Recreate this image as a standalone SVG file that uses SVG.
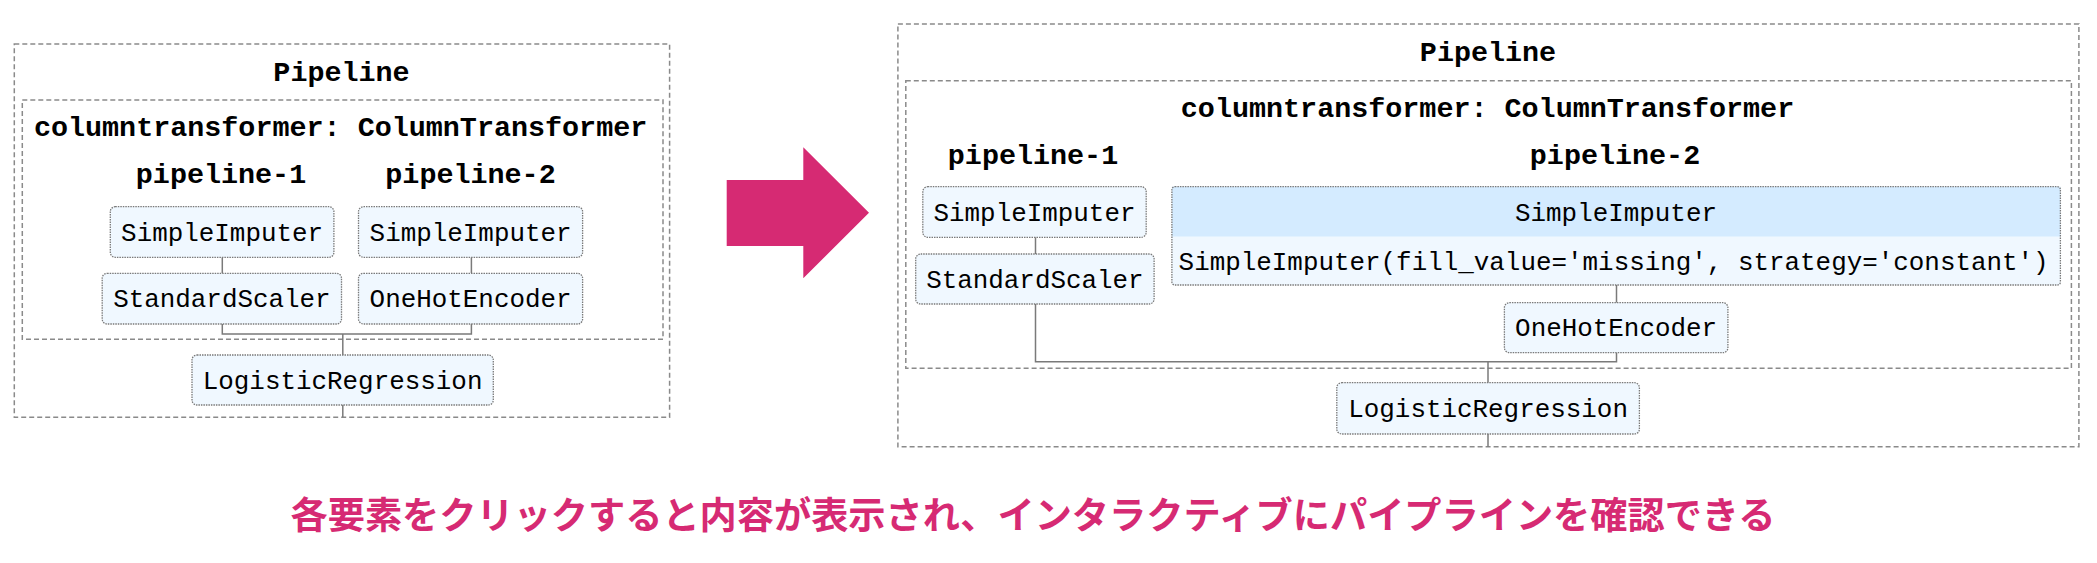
<svg xmlns="http://www.w3.org/2000/svg" width="2097" height="563" viewBox="0 0 2097 563">
<style>
.bg{fill:#ffffff}
.outer{fill:none;stroke:#8a8a8a;stroke-width:1.5;stroke-dasharray:5,3}
.node{fill:#f0f8ff;stroke:#7a7a7a;stroke-width:1.3;stroke-dasharray:1.5,1}
.head{fill:#d4ebff}
.title{font-family:"Liberation Mono","DejaVu Sans Mono",monospace;font-weight:bold;font-size:28.4px;fill:#000;text-anchor:middle}
.lbl{font-family:"Liberation Mono","DejaVu Sans Mono",monospace;font-size:25.9px;fill:#000;text-anchor:middle}
.lblL{font-family:"Liberation Mono","DejaVu Sans Mono",monospace;font-size:25.9px;fill:#000}
.conn{fill:none;stroke:#7a7a7a;stroke-width:1.5}
.cap{font-family:"Noto Sans CJK JP","Noto Sans CJK SC",sans-serif;font-weight:bold;font-size:37.2px;fill:#d62a73;text-anchor:middle}
</style>
<rect class="bg" x="0" y="0" width="2097" height="563"/>

<!-- LEFT DIAGRAM -->
<g id="left-pipeline">
  <rect class="outer" x="14.3" y="44" width="655.3" height="373.3"/>
  <text class="title" x="341.5" y="80.7">Pipeline</text>
</g>
<g id="left-columntransformer">
  <rect class="outer" x="22.3" y="100" width="640.7" height="239.3"/>
  <text class="title" x="340.6" y="136">columntransformer: ColumnTransformer</text>
</g>
<g id="left-pipeline-1-label"><text class="title" x="221" y="183.3">pipeline-1</text></g>
<g id="left-pipeline-2-label"><text class="title" x="470.5" y="183.3">pipeline-2</text></g>

<g id="left-conns">
  <path class="conn" d="M222.3 257.3V273.3"/>
  <path class="conn" d="M471.4 257.3V273.3"/>
  <path class="conn" d="M222.3 324V334H471.4V324"/>
  <path class="conn" d="M342.8 334V355"/>
  <path class="conn" d="M342.8 405V417.3"/>
</g>

<g id="left-simpleimputer-1">
  <rect class="node" x="110.3" y="206.7" width="223.6" height="50.6" rx="5"/>
  <text class="lbl" x="222.1" y="240.5">SimpleImputer</text>
</g>
<g id="left-simpleimputer-2">
  <rect class="node" x="358.5" y="206.7" width="224.1" height="50.6" rx="5"/>
  <text class="lbl" x="470.6" y="240.5">SimpleImputer</text>
</g>
<g id="left-standardscaler">
  <rect class="node" x="102.2" y="273.3" width="239.3" height="50.7" rx="5"/>
  <text class="lbl" x="221.9" y="307.2">StandardScaler</text>
</g>
<g id="left-onehotencoder">
  <rect class="node" x="358.5" y="273.3" width="224.1" height="50.7" rx="5"/>
  <text class="lbl" x="470.6" y="307.2">OneHotEncoder</text>
</g>
<g id="left-logisticregression">
  <rect class="node" x="192" y="355" width="301.3" height="50" rx="5"/>
  <text class="lbl" x="342.6" y="388.5">LogisticRegression</text>
</g>

<!-- ARROW -->
<g id="arrow">
  <polygon points="726.7,180 803.3,180 803.3,147.3 869,212.7 803.3,278.3 803.3,246 726.7,246" fill="#d62a73"/>
</g>

<!-- RIGHT DIAGRAM -->
<g id="right-pipeline">
  <rect class="outer" x="897.9" y="24" width="1181" height="422.7"/>
  <text class="title" x="1488" y="60.7">Pipeline</text>
</g>
<g id="right-columntransformer">
  <rect class="outer" x="905.8" y="80.7" width="1165.6" height="287.6"/>
  <text class="title" x="1487.5" y="117.3">columntransformer: ColumnTransformer</text>
</g>
<g id="right-pipeline-1-label"><text class="title" x="1033" y="164">pipeline-1</text></g>
<g id="right-pipeline-2-label"><text class="title" x="1615" y="164">pipeline-2</text></g>

<g id="right-conns">
  <path class="conn" d="M1035.5 237.3V254"/>
  <path class="conn" d="M1616.5 285V302.7"/>
  <path class="conn" d="M1035.5 304V361.7H1616.5V352.7"/>
  <path class="conn" d="M1488 361.7V382.7"/>
  <path class="conn" d="M1488 434V446.7"/>
</g>

<g id="right-simpleimputer-1">
  <rect class="node" x="922.8" y="186.7" width="223.4" height="50.6" rx="5"/>
  <text class="lbl" x="1034.5" y="220.5">SimpleImputer</text>
</g>
<g id="right-standardscaler">
  <rect class="node" x="915.7" y="254" width="238.4" height="50" rx="5"/>
  <text class="lbl" x="1034.9" y="287.5">StandardScaler</text>
</g>
<g id="right-simpleimputer-2-expanded">
  <rect x="1171.9" y="186.7" width="888.5" height="98.3" fill="#f0f8ff"/>
  <rect class="head" x="1171.9" y="186.7" width="888.5" height="49.8"/>
  <rect class="node" x="1171.9" y="186.7" width="888.5" height="98.3" rx="3" fill="none" style="fill:none"/>
  <text class="lbl" x="1616" y="220.5">SimpleImputer</text>
  <text class="lblL" x="1178.6" y="270">SimpleImputer(fill_value='missing', strategy='constant')</text>
</g>
<g id="right-onehotencoder">
  <rect class="node" x="1504.4" y="302.7" width="223.5" height="50" rx="5"/>
  <text class="lbl" x="1616.1" y="336.2">OneHotEncoder</text>
</g>
<g id="right-logisticregression">
  <rect class="node" x="1336.8" y="382.7" width="302.6" height="51.3" rx="5"/>
  <text class="lbl" x="1488.1" y="416.8">LogisticRegression</text>
</g>

<!-- CAPTION -->
<g id="caption">
  <text class="cap" x="1033" y="529">各要素をクリックすると内容が表示され、インタラクティブにパイプラインを確認できる</text>
</g>
</svg>
